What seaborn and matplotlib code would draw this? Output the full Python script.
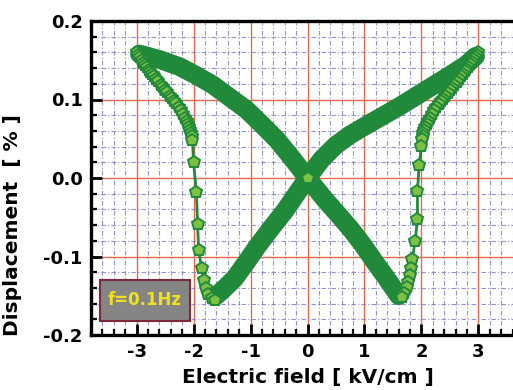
import matplotlib
matplotlib.use("Agg")
import matplotlib.pyplot as plt
import seaborn as sns
from matplotlib.ticker import MultipleLocator, FormatStrFormatter
from matplotlib.patches import Rectangle

# Butterfly loop data (E in kV/cm, D in %)
# inner curve + fast drop on the right (E going down from +3)
right_inner_E = [3.00, 2.97, 2.94, 2.91, 2.88, 2.85, 2.82, 2.79, 2.76, 2.73, 2.70, 2.66,
                 2.62, 2.58, 2.54, 2.50, 2.46, 2.42, 2.38, 2.34, 2.30, 2.26, 2.22, 2.18,
                 2.15, 2.12, 2.09, 2.07, 2.05, 2.03, 2.02, 2.01,
                 2.00, 1.96, 1.93, 1.93, 1.89, 1.84, 1.82, 1.80, 1.77, 1.74, 1.70, 1.66]
right_inner_D = [0.160, 0.157, 0.154, 0.151, 0.148, 0.145, 0.142, 0.139, 0.136, 0.133, 0.130, 0.126,
                 0.122, 0.119, 0.115, 0.112, 0.108, 0.105, 0.101, 0.098, 0.094, 0.090, 0.086, 0.081,
                 0.077, 0.073, 0.069, 0.065, 0.061, 0.057, 0.053, 0.050,
                 0.041, 0.016, -0.016, -0.052, -0.080, -0.103, -0.115, -0.124, -0.132, -0.139, -0.146, -0.151]
# dense branch from the right minimum back through zero to -3
band_down_E = [1.60, 1.39, 1.18, 0.98, 0.78, 0.58, 0.30, 0.00, -0.27, -0.54, -0.80, -1.07,
               -1.37, -1.67, -1.96, -2.25, -2.60, -2.95]
band_down_D = [-0.150, -0.128, -0.107, -0.086, -0.067, -0.050, -0.027, 0.000, 0.025, 0.049, 0.068, 0.087,
               0.103, 0.119, 0.131, 0.142, 0.151, 0.158]
# inner curve + fast drop on the left (E going up from -3)
left_inner_E = [-3.00, -2.97, -2.94, -2.91, -2.88, -2.85, -2.82, -2.79, -2.76, -2.73, -2.70, -2.66,
                -2.62, -2.58, -2.54, -2.50, -2.46, -2.42, -2.38, -2.34, -2.30, -2.26, -2.22, -2.18,
                -2.15, -2.12, -2.10, -2.08, -2.06, -2.04, -2.03, -2.02,
                -2.00, -1.95, -1.93, -1.91, -1.86, -1.82, -1.79, -1.75, -1.68, -1.63]
left_inner_D = [0.160, 0.157, 0.154, 0.150, 0.147, 0.144, 0.141, 0.138, 0.135, 0.133, 0.130, 0.126,
                0.123, 0.119, 0.116, 0.112, 0.109, 0.105, 0.102, 0.098, 0.095, 0.090, 0.086, 0.081,
                0.077, 0.073, 0.069, 0.065, 0.061, 0.057, 0.053, 0.049,
                0.020, -0.018, -0.058, -0.092, -0.115, -0.130, -0.140, -0.148, -0.153, -0.155]
# dense branch from the left minimum up through zero to +3
band_up_E = [-1.60, -1.45, -1.28, -1.08, -0.88, -0.64, -0.40, -0.20, 0.00, 0.25, 0.50, 0.75,
             1.03, 1.32, 1.61, 1.90, 2.19, 2.48, 2.78, 2.95]
band_up_D = [-0.150, -0.140, -0.128, -0.108, -0.087, -0.064, -0.042, -0.021, 0.000, 0.024, 0.042, 0.055,
             0.067, 0.079, 0.091, 0.104, 0.117, 0.130, 0.144, 0.155]
start_E = [0.0]
start_D = [0.0]

x_ticks = [-3, -2, -1, 0, 1, 2, 3]
freq_label = "f=0.1Hz"

dark_green = "#21893a"
light_green = "#7cc143"

sns.set_style("white")
plt.rcParams['font.family'] = ['DejaVu Sans']
plt.rcParams['axes.unicode_minus'] = False
plt.rcParams['text.color'] = 'black'
plt.rcParams['axes.labelcolor'] = 'black'
plt.rcParams['xtick.color'] = 'black'
plt.rcParams['ytick.color'] = 'black'

fig = plt.figure(figsize=(5.13, 3.90), dpi=100)
ax = fig.add_axes([91 / 513, 55 / 390, 433 / 513, 314 / 390])

# dense branches drawn as thick bands
for bx, by in [(band_down_E, band_down_D), (band_up_E, band_up_D)]:
    sns.lineplot(x=bx, y=by, sort=False, estimator=None, ax=ax, color=dark_green,
                 linewidth=13.5, solid_capstyle='round', solid_joinstyle='round', zorder=3)

# sparse parts with pentagon markers
for mx, my in [(right_inner_E, right_inner_D), (left_inner_E, left_inner_D), (start_E, start_D)]:
    sns.lineplot(x=mx, y=my, sort=False, estimator=None, ax=ax, color=dark_green,
                 linewidth=2.0, marker='p', markersize=9, markerfacecolor=light_green,
                 markeredgecolor=dark_green, markeredgewidth=1.4, zorder=4)

ax.set_xlim(-3.8, 3.8)
ax.set_ylim(-0.2, 0.2)
ax.set_xticks(x_ticks)
ax.xaxis.set_minor_locator(MultipleLocator(0.2))
ax.yaxis.set_major_locator(MultipleLocator(0.1))
ax.yaxis.set_minor_locator(MultipleLocator(0.02))
ax.yaxis.set_major_formatter(FormatStrFormatter('%.1f'))

ax.set_axisbelow(True)
ax.grid(which='minor', color='#7a78c4', linestyle=(0, (4, 2, 1, 2)), linewidth=0.8, alpha=0.8)
ax.grid(which='major', color='#e8684a', linestyle='-', linewidth=1.0)

for side in ['left', 'bottom', 'top', 'right']:
    ax.spines[side].set_color('black')
    ax.spines[side].set_linewidth(2.4)
    ax.spines[side].set_visible(True)

ax.tick_params(which='major', direction='in', length=8, width=2, left=True, bottom=True,
               labelsize=13, pad=6, colors='black')
ax.tick_params(which='minor', direction='in', length=4, width=1.6, left=True, bottom=True,
               colors='black')
for lab in ax.get_xticklabels() + ax.get_yticklabels():
    lab.set_fontweight('bold')

ax.set_xlabel("Electric field [ kV/cm ]", fontsize=14.5, fontweight='bold', labelpad=5, color='black')
ax.set_ylabel("Displacement  [ % ]", fontsize=14.5, fontweight='bold', color='black')
ax.yaxis.set_label_coords(-0.16, 0.35)

# frequency box
ax.add_patch(Rectangle((-3.65, -0.182), 1.58, 0.052, facecolor='#858585',
                       edgecolor='#7a2a3a', linewidth=1.5, zorder=5))
ax.text(-2.86, -0.156, freq_label, color='#f0e020', fontsize=12, fontweight='bold',
        ha='center', va='center', zorder=6)

fig.savefig("out.png", dpi=100)
